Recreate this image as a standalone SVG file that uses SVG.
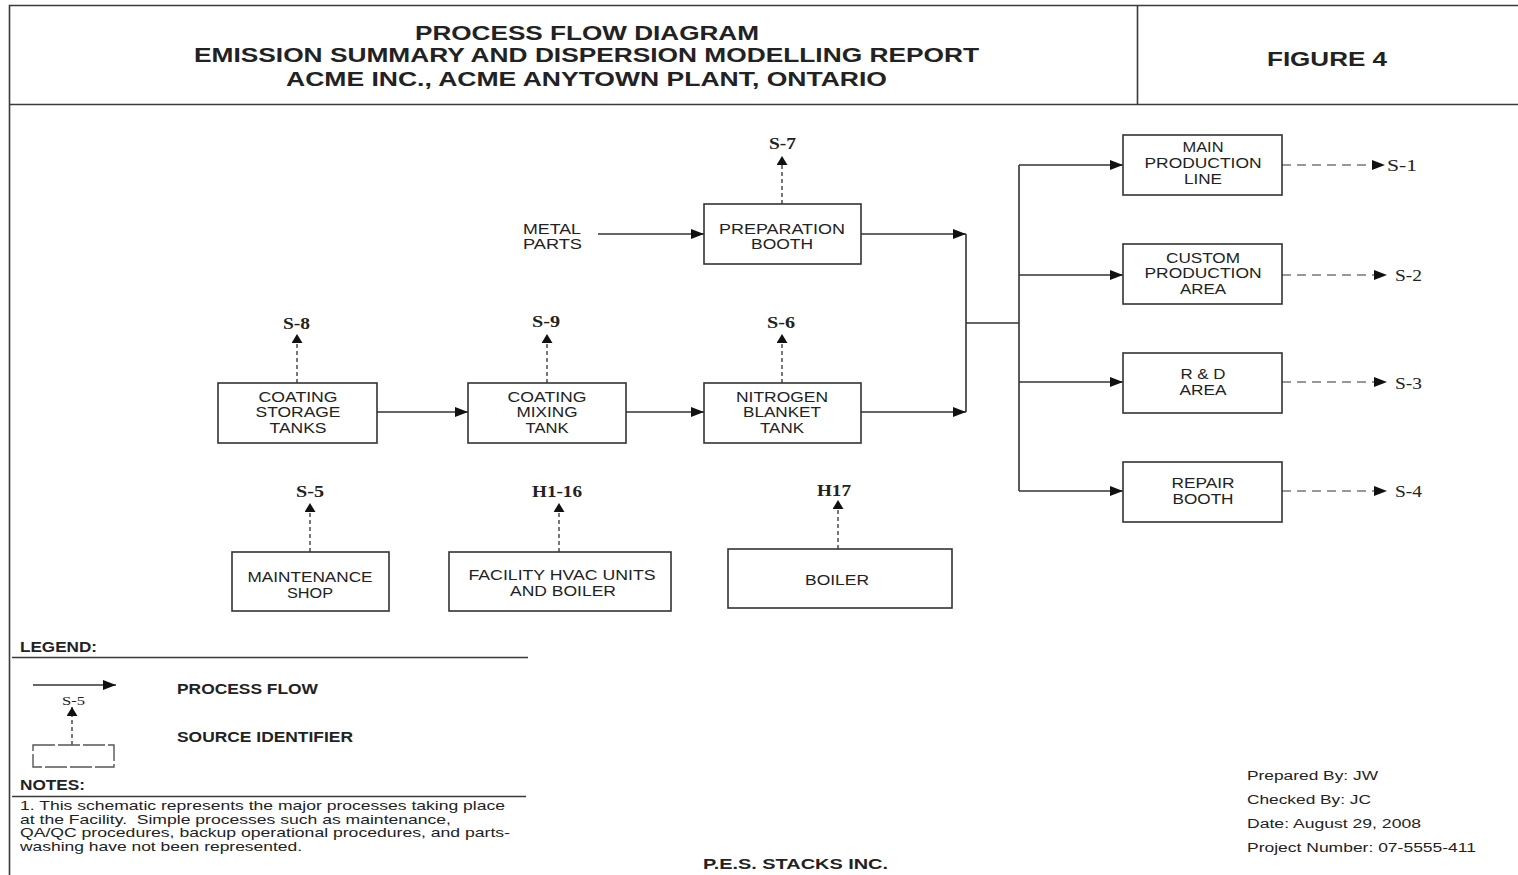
<svg xmlns="http://www.w3.org/2000/svg" width="1518" height="875" viewBox="0 0 1518 875">
<style>
.frame{stroke:#3a3a3a;stroke-width:1.6;fill:none}
.box{fill:#fff;stroke:#333;stroke-width:1.6}
.flow{stroke:#333;stroke-width:1.6;fill:none;marker-end:url(#ah)}
.line{stroke:#333;stroke-width:1.6;fill:none}
.emit{stroke:#777;stroke-width:2;stroke-dasharray:4 3;fill:none;marker-end:url(#ae)}
.emitr{stroke:#777;stroke-width:1.6;stroke-dasharray:9 6;fill:none;marker-end:url(#ar)}
.t{font-family:"Liberation Sans",Arial,sans-serif;font-size:14px;fill:#222;text-anchor:middle}
.tb{font-family:"Liberation Sans",Arial,sans-serif;font-weight:bold;fill:#222}
.ti{font-size:21px;text-anchor:middle}
.lg{font-size:14px}
.n{font-family:"Liberation Sans",Arial,sans-serif;font-size:13.5px;fill:#222}
.br{font-family:"Liberation Sans",Arial,sans-serif;font-size:12.5px;fill:#222}
.s{font-family:"Liberation Serif","Times New Roman",serif;font-size:16px;fill:#222;text-anchor:middle}
.sb{font-weight:bold}
</style>
<defs>
<marker id="ah" viewBox="0 0 13 10" refX="13" refY="5" markerWidth="13" markerHeight="10" markerUnits="userSpaceOnUse" orient="auto"><path d="M0,0 L13,5 L0,10 z" fill="#111"/></marker>
<marker id="ae" viewBox="0 0 9 11" refX="9" refY="5.5" markerWidth="9" markerHeight="11" markerUnits="userSpaceOnUse" orient="auto"><path d="M0,0 L9,5.5 L0,11 z" fill="#111"/></marker>
<marker id="ar" viewBox="0 0 13 10" refX="13" refY="5" markerWidth="13" markerHeight="10" markerUnits="userSpaceOnUse" orient="auto"><path d="M0,0 L13,5 L0,10 z" fill="#111"/></marker>
</defs>
<rect width="1518" height="875" fill="#fff"/>

<g id="frame">
<path class="frame" d="M9.5,875 V5.5 H1518 M9.5,104.5 H1518 M1137.5,5.5 V104.5"/>
<text class="tb ti" x="587" y="39.5" textLength="344" lengthAdjust="spacingAndGlyphs">PROCESS FLOW DIAGRAM</text>
<text class="tb ti" x="586.5" y="62" textLength="785" lengthAdjust="spacingAndGlyphs">EMISSION SUMMARY AND DISPERSION MODELLING REPORT</text>
<text class="tb ti" x="586.5" y="85.5" textLength="601" lengthAdjust="spacingAndGlyphs">ACME INC., ACME ANYTOWN PLANT, ONTARIO</text>
<text class="tb ti" x="1327" y="65.5" textLength="120" lengthAdjust="spacingAndGlyphs">FIGURE 4</text>
</g>

<g id="connectors">
<path class="flow" d="M598,234 H704"/>
<path class="flow" d="M861,234 H966"/>
<path class="line" d="M966,234 V412"/>
<path class="flow" d="M377,412 H468"/>
<path class="flow" d="M626,412 H704"/>
<path class="flow" d="M861,412 H966"/>
<path class="line" d="M966,323 H1019 M1019,165 V491"/>
<path class="flow" d="M1019,165 H1123"/>
<path class="flow" d="M1019,275 H1123"/>
<path class="flow" d="M1019,382 H1123"/>
<path class="flow" d="M1019,491 H1123"/>
<path class="emit" d="M782,204 V156"/>
<path class="emit" d="M297,383 V334"/>
<path class="emit" d="M547,383 V334"/>
<path class="emit" d="M782,383 V334"/>
<path class="emit" d="M310,552 V503"/>
<path class="emit" d="M559,552 V503"/>
<path class="emit" d="M838,549 V500"/>
<path class="emitr" d="M1282,165 H1385"/>
<path class="emitr" d="M1282,275 H1387"/>
<path class="emitr" d="M1282,382 H1387"/>
<path class="emitr" d="M1282,491 H1387"/>
</g>

<g id="metal-parts">
<text class="t" x="552" y="234" textLength="58" lengthAdjust="spacingAndGlyphs">METAL</text>
<text class="t" x="552.5" y="249" textLength="59" lengthAdjust="spacingAndGlyphs">PARTS</text>
</g>

<g id="preparation-booth">
<rect class="box" x="704" y="204" width="157" height="60"/>
<text class="t" x="782" y="234" textLength="126" lengthAdjust="spacingAndGlyphs">PREPARATION</text>
<text class="t" x="782" y="249" textLength="62" lengthAdjust="spacingAndGlyphs">BOOTH</text>
</g>

<g id="coating-storage">
<rect class="box" x="218" y="383" width="159" height="60"/>
<text class="t" x="298" y="402" textLength="79" lengthAdjust="spacingAndGlyphs">COATING</text>
<text class="t" x="298" y="417" textLength="85" lengthAdjust="spacingAndGlyphs">STORAGE</text>
<text class="t" x="298" y="433" textLength="57" lengthAdjust="spacingAndGlyphs">TANKS</text>
</g>

<g id="coating-mixing">
<rect class="box" x="468" y="383" width="158" height="60"/>
<text class="t" x="547" y="402" textLength="79" lengthAdjust="spacingAndGlyphs">COATING</text>
<text class="t" x="547" y="417" textLength="61" lengthAdjust="spacingAndGlyphs">MIXING</text>
<text class="t" x="547" y="433" textLength="43" lengthAdjust="spacingAndGlyphs">TANK</text>
</g>

<g id="nitrogen-blanket">
<rect class="box" x="704" y="383" width="157" height="60"/>
<text class="t" x="782" y="402" textLength="92" lengthAdjust="spacingAndGlyphs">NITROGEN</text>
<text class="t" x="782" y="417" textLength="78" lengthAdjust="spacingAndGlyphs">BLANKET</text>
<text class="t" x="782" y="433" textLength="44" lengthAdjust="spacingAndGlyphs">TANK</text>
</g>

<g id="main-production">
<rect class="box" x="1123" y="135" width="159" height="60"/>
<text class="t" x="1203" y="152" textLength="41" lengthAdjust="spacingAndGlyphs">MAIN</text>
<text class="t" x="1203" y="168" textLength="117" lengthAdjust="spacingAndGlyphs">PRODUCTION</text>
<text class="t" x="1203" y="184" textLength="38" lengthAdjust="spacingAndGlyphs">LINE</text>
</g>

<g id="custom-production">
<rect class="box" x="1123" y="244" width="159" height="60"/>
<text class="t" x="1203" y="263" textLength="74" lengthAdjust="spacingAndGlyphs">CUSTOM</text>
<text class="t" x="1203" y="278" textLength="117" lengthAdjust="spacingAndGlyphs">PRODUCTION</text>
<text class="t" x="1203" y="294" textLength="46" lengthAdjust="spacingAndGlyphs">AREA</text>
</g>

<g id="rd-area">
<rect class="box" x="1123" y="353" width="159" height="60"/>
<text class="t" x="1203" y="379" textLength="45" lengthAdjust="spacingAndGlyphs">R &amp; D</text>
<text class="t" x="1203" y="395" textLength="47" lengthAdjust="spacingAndGlyphs">AREA</text>
</g>

<g id="repair-booth">
<rect class="box" x="1123" y="462" width="159" height="60"/>
<text class="t" x="1203" y="488" textLength="63" lengthAdjust="spacingAndGlyphs">REPAIR</text>
<text class="t" x="1203" y="504" textLength="61" lengthAdjust="spacingAndGlyphs">BOOTH</text>
</g>

<g id="maintenance-shop">
<rect class="box" x="232" y="552" width="157" height="59"/>
<text class="t" x="310" y="582" textLength="125" lengthAdjust="spacingAndGlyphs">MAINTENANCE</text>
<text class="t" x="310" y="598" textLength="46" lengthAdjust="spacingAndGlyphs">SHOP</text>
</g>

<g id="hvac-units">
<rect class="box" x="449" y="552" width="222" height="59"/>
<text class="t" x="562" y="580" textLength="187" lengthAdjust="spacingAndGlyphs">FACILITY HVAC UNITS</text>
<text class="t" x="563" y="596" textLength="106" lengthAdjust="spacingAndGlyphs">AND BOILER</text>
</g>

<g id="boiler">
<rect class="box" x="728" y="549" width="224" height="59"/>
<text class="t" x="837" y="585" textLength="64" lengthAdjust="spacingAndGlyphs">BOILER</text>
</g>

<g id="source-labels">
<text class="s sb" x="782.5" y="148.5" textLength="27" lengthAdjust="spacingAndGlyphs">S-7</text>
<text class="s sb" x="296.5" y="328.5" textLength="27" lengthAdjust="spacingAndGlyphs">S-8</text>
<text class="s sb" x="546" y="326.5" textLength="28" lengthAdjust="spacingAndGlyphs">S-9</text>
<text class="s sb" x="781" y="327.5" textLength="28" lengthAdjust="spacingAndGlyphs">S-6</text>
<text class="s sb" x="310" y="496.5" textLength="28" lengthAdjust="spacingAndGlyphs">S-5</text>
<text class="s sb" x="557" y="496.5" textLength="50" lengthAdjust="spacingAndGlyphs">H1-16</text>
<text class="s sb" x="834" y="495.5" textLength="34" lengthAdjust="spacingAndGlyphs">H17</text>
<text class="s" x="1402" y="170.5" textLength="30" lengthAdjust="spacingAndGlyphs">S-1</text>
<text class="s" x="1408.5" y="280.5" textLength="27" lengthAdjust="spacingAndGlyphs">S-2</text>
<text class="s" x="1408.5" y="388.5" textLength="27" lengthAdjust="spacingAndGlyphs">S-3</text>
<text class="s" x="1408.5" y="496.5" textLength="27" lengthAdjust="spacingAndGlyphs">S-4</text>
</g>

<g id="legend">
<text class="tb lg" x="20" y="652" textLength="77" lengthAdjust="spacingAndGlyphs">LEGEND:</text>
<path class="frame" d="M12,657.5 H528"/>
<path class="flow" d="M33,685 H116"/>
<text class="tb lg" x="177" y="694" textLength="141" lengthAdjust="spacingAndGlyphs">PROCESS FLOW</text>
<text class="s" style="font-size:12px" x="73.5" y="705" textLength="23" lengthAdjust="spacingAndGlyphs">S-5</text>
<path class="emit" d="M72,745 V707"/>
<rect x="33" y="745" width="81" height="22" fill="none" stroke="#555" stroke-width="1.4" stroke-dasharray="22 3"/>
<text class="tb lg" x="177" y="742" textLength="176" lengthAdjust="spacingAndGlyphs">SOURCE IDENTIFIER</text>
</g>

<g id="notes">
<text class="tb lg" x="20" y="790" textLength="65" lengthAdjust="spacingAndGlyphs">NOTES:</text>
<path class="frame" d="M12,796.5 H526"/>
<text class="n" x="20" y="810" textLength="485" lengthAdjust="spacingAndGlyphs">1. This schematic represents the major processes taking place</text>
<text class="n" x="20" y="824" textLength="431" lengthAdjust="spacingAndGlyphs">at the Facility.&#160; Simple processes such as maintenance,</text>
<text class="n" x="20" y="837" textLength="490" lengthAdjust="spacingAndGlyphs">QA/QC procedures, backup operational procedures, and parts-</text>
<text class="n" x="20" y="851" textLength="282" lengthAdjust="spacingAndGlyphs">washing have not been represented.</text>
</g>

<g id="title-block">
<text class="br" x="1247" y="779.5" textLength="131" lengthAdjust="spacingAndGlyphs">Prepared By: JW</text>
<text class="br" x="1247" y="803.5" textLength="124" lengthAdjust="spacingAndGlyphs">Checked By: JC</text>
<text class="br" x="1247" y="827.5" textLength="174" lengthAdjust="spacingAndGlyphs">Date: August 29, 2008</text>
<text class="br" x="1247" y="851.5" textLength="229" lengthAdjust="spacingAndGlyphs">Project Number: 07-5555-411</text>
<text class="tb lg" x="795.5" y="869" text-anchor="middle" textLength="185" lengthAdjust="spacingAndGlyphs">P.E.S. STACKS INC.</text>
</g>
</svg>
